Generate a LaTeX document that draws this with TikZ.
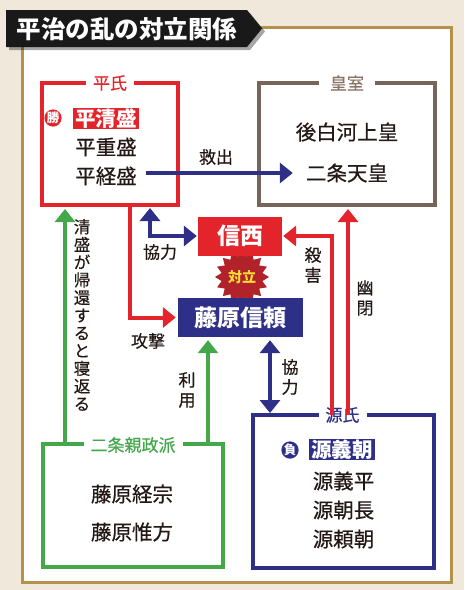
\documentclass[tikz,border=0pt]{standalone}
\usepackage{fontspec}
\setmainfont{Noto Sans CJK JP}
\newfontfamily\jpmed[FakeBold=0.5]{Noto Sans CJK JP}
\newfontfamily\jplbl[FakeBold=0.35]{Noto Sans CJK JP}
\usetikzlibrary{arrows.meta,shapes.geometric,calc}
\definecolor{cred}{HTML}{E3242B}
\definecolor{cblue}{HTML}{2E3087}
\definecolor{cgreen}{HTML}{44A84B}
\definecolor{cbrown}{HTML}{78655A}
\definecolor{clbrown}{HTML}{8A7467}
\definecolor{cgold}{HTML}{B5924C}
\definecolor{cbg}{HTML}{EFE8DB}
\definecolor{cstar}{HTML}{B2222A}
\definecolor{cyel}{HTML}{FFE033}
\definecolor{ctext}{HTML}{231815}
\begin{document}
\begin{tikzpicture}[x=1pt,y=-1pt,
  groupbox/.style={draw=#1, line width=3.5pt, outer sep=0pt, inner sep=0pt},
  boxlabel/.style={fill=white, text=#1, inner xsep=7pt, inner ysep=1pt, font=\jplbl\fontsize{17}{17}\selectfont},
  person/.style={text=ctext, inner sep=0pt, font=\jpmed\fontsize{20.5}{20.5}\selectfont},
  lbl/.style={text=ctext, inner sep=0pt, align=center, font=\jplbl\fontsize{17}{20}\selectfont},
  vlbl/.style={text=ctext, inner sep=0pt, align=center, font=\jplbl\fontsize{16.5}{17.7}\selectfont},
  arr/.style={draw=#1, line width=4pt, -{Triangle[width=20pt,length=13pt]}},
  darr/.style={draw=#1, line width=4pt, {Triangle[width=20pt,length=13pt]}-{Triangle[width=20pt,length=13pt]}},
  hl/.style={fill=#1, text=white, font=\fontsize{20.5}{20.5}\selectfont\bfseries, inner xsep=2pt, inner ysep=1pt},
  badge/.style={circle, fill=#1, text=white, inner sep=0pt, minimum size=17pt, font=\fontsize{12.5}{12.5}\selectfont\bfseries},
  keynode/.style={fill=#1, text=white, inner sep=0pt, font=\fontsize{23}{23}\selectfont\bfseries},
]
% background and frame
\fill[cbg] (0,0) rectangle (464,590);
\useasboundingbox (0,0) rectangle (464,590);
\draw[cgold, line width=3pt, fill=white] (22,27) rectangle (451,582);

% title
\fill[black, opacity=0.35] (9,13) -- (250,13) -- (265,31.5) -- (250,50) -- (9,50) -- cycle;
\fill[black!90] (6,10) -- (247,10) -- (262,28.5) -- (247,47) -- (6,47) -- cycle;
\node[text=white, inner sep=0pt, font=\fontsize{24.5}{24.5}\selectfont\bfseries] (title) at (127,29) {平治の乱の対立関係};

% group boxes
\node[groupbox=cred, minimum width=136pt, minimum height=122pt] (heishi) at (110,144) {};
\node[groupbox=cbrown, minimum width=176pt, minimum height=122pt] (koshitsu) at (347,144) {};
\node[groupbox=cgreen, minimum width=180pt, minimum height=123pt] (nijo) at (133,505.5) {};
\node[groupbox=cblue, minimum width=181pt, minimum height=153pt] (genji) at (343.5,491.5) {};

\node[boxlabel=cred] (lheishi) at (110,83) {平氏};
\node[boxlabel=clbrown, inner xsep=11pt] (lkoshitsu) at (347,83) {皇室};
\node[boxlabel=cgreen] (lnijo) at (133,445) {二条親政派};
\node[boxlabel=cblue] (lgenji) at (342.5,415) {源氏};

% clash star and key persons
\node[star, star points=16, star point ratio=1.3, fill=cstar, minimum size=54pt, inner sep=0pt] (clash) at (242,277) {};
\node[keynode=cred, minimum width=84pt, minimum height=39pt] (shinzei) at (240,236) {信西};
\node[keynode=cblue, minimum width=125pt, minimum height=39pt] (nobuyori) at (240.5,317.5) {藤原信頼};
\node[text=cyel, inner sep=0pt, font=\fontsize{14}{14}\selectfont\bfseries] (clashtext) at (clash) {対立};

% members
\node[badge=cred] (win) at (53,118) {勝};
\node[hl=cred] (hk1) at (106,118.5) {平清盛};
\node[person] (hk2) at (106,147) {平重盛};
\node[person] (hk3) at (106,176) {平経盛};
\node[person] (tenno1) at (347,132) {後白河上皇};
\node[person] (tenno2) at (347,173) {二条天皇};
\node[person] (ns1) at (132,494) {藤原経宗};
\node[person] (ns2) at (132,532) {藤原惟方};
\node[badge=cblue] (lose) at (290,450) {負};
\node[hl=cblue] (gj1) at (342,449.5) {源義朝};
\node[person] (gj2) at (343.5,481) {源義平};
\node[person] (gj3) at (343.5,510) {源朝長};
\node[person] (gj4) at (343.5,539) {源頼朝};

% connector x positions
\coordinate (xn) at (65,0);
\coordinate (xr) at (130,0);
\coordinate (xk) at (150,0);
\coordinate (xg) at (208,0);
\coordinate (xb) at (270,0);
\coordinate (xs) at (332,0);
\coordinate (xy) at (348,0);
\coordinate (s1) at ([xshift=9pt]hk3.east);

% connectors
\draw[arr=cblue, shorten >=13pt] (s1 |- tenno2) -- (tenno2.west);
\draw[darr=cblue, shorten <=3pt, shorten >=1pt] (heishi.south -| xk) |- (shinzei.west);
\draw[arr=cred, shorten >=2pt] (heishi.south -| xr) |- (nobuyori.west);
\draw[arr=cred, shorten >=1pt] (genji.north -| xs) |- (shinzei.east);
\draw[arr=cred, shorten >=4pt] (genji.north -| xy) -- (koshitsu.south -| xy);
\draw[darr=cblue, shorten <=3pt, shorten >=2pt] (nobuyori.south -| xb) -- (genji.north -| xb);
\draw[arr=cgreen, shorten >=3pt] (nijo.north -| xg) -- (nobuyori.south -| xg);
\draw[arr=cgreen, shorten >=4pt] (nijo.north -| xn) -- (heishi.south -| xn);

% connector labels
\node[lbl] (l1) at (216,157) {救出};
\node[lbl] (l2) at (160,252) {協力};
\node[lbl] (l3) at (148,341) {攻撃};
\node[lbl] (l4) at (313,265) {殺\\害};
\node[lbl] (l5) at (365,298) {幽\\閉};
\node[lbl] (l6) at (290,377) {協\\力};
\node[lbl] (l7) at (187,390) {利\\用};
\node[vlbl] (l8) at (82,315) {清\\盛\\が\\帰\\還\\す\\る\\と\\寝\\返\\る};
\end{tikzpicture}
\end{document}
